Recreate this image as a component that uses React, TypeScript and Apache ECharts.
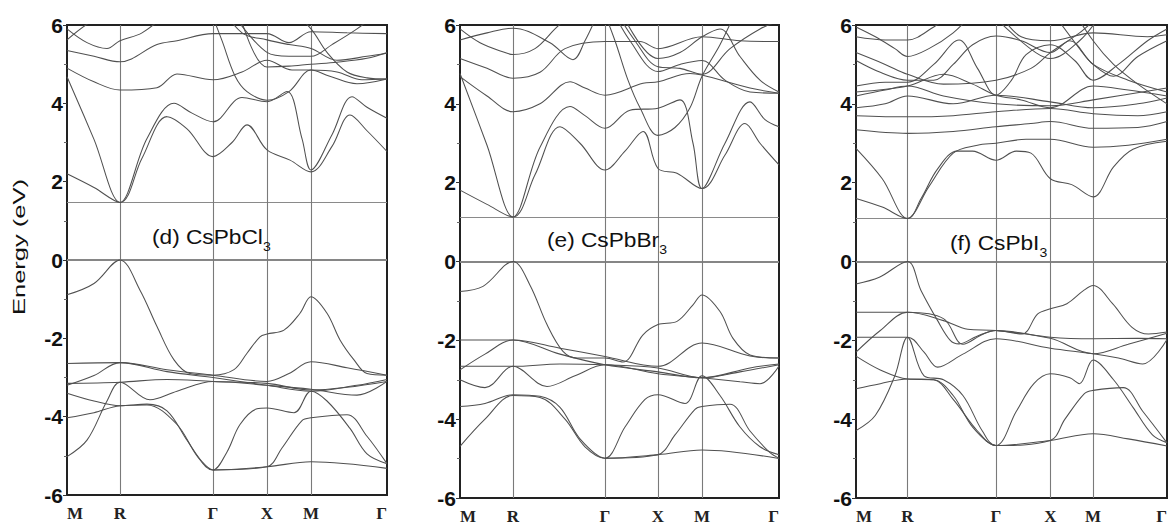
import React, { useEffect, useRef } from "react";
import * as echarts from "echarts";

// High-symmetry path M–R–Γ–X–M–Γ, positions along the k-path for each panel
const K_LABELS = ["M", "R", "Γ", "X", "M", "Γ"];
const D_KPOS = [0, 53, 146, 200, 244, 320];
const E_KPOS = [0, 53, 145, 198, 242, 319];
const F_KPOS = [0, 53, 144, 200, 244, 320];

// Conduction band minimum (eV) marked by a horizontal line in each panel
const D_CBM = 1.47;
const E_CBM = 1.13;
const F_CBM = 1.09;

const Y_TICKS = [-6, -4, -2, 0, 2, 4, 6];

// ---- (d) CsPbCl3 ----
const D_V1 = [[0, -0.89], [27, -0.6], [53, 0], [73, -0.77], [90, -1.7], [107, -2.55], [123, -2.9], [146, -2.94], [167, -2.8], [180, -2.38], [193, -1.96], [200, -1.89], [217, -1.79], [233, -1.36], [244, -0.94], [260, -1.36], [273, -2.04], [287, -2.55], [300, -2.9], [320, -2.94]];
const D_V2 = [[0, -2.64], [53, -2.62], [100, -2.8], [146, -2.94], [200, -3.1], [222, -2.9], [244, -2.6], [280, -2.75], [320, -2.94]];
const D_V3 = [[0, -3.15], [53, -3.12], [100, -3.05], [146, -3.1], [200, -3.15], [244, -3.32], [280, -3.25], [320, -3.1]];
const D_V4 = [[0, -3.2], [27, -2.95], [53, -2.62], [100, -2.85], [146, -3.0], [200, -3.2], [244, -3.35], [290, -3.2], [320, -3.05]];
const D_V5 = [[0, -3.4], [27, -3.6], [53, -3.72], [80, -3.68], [100, -3.85], [120, -4.6], [135, -5.15], [146, -5.36], [160, -4.9], [173, -4.2], [190, -3.8], [200, -3.78], [227, -3.9], [244, -3.35], [260, -3.6], [283, -4.3], [300, -4.95], [320, -5.2]];
const D_V6 = [[0, -4.03], [27, -3.9], [53, -3.72], [80, -3.7], [110, -4.2], [130, -5.0], [146, -5.36], [200, -5.28], [244, -5.15], [320, -5.32]];
const D_V7 = [[0, -5.02], [20, -4.6], [40, -3.6], [53, -3.12], [83, -3.57], [110, -3.35], [146, -3.1], [200, -3.2], [244, -3.3], [290, -3.45], [320, -3.1]];
const D_V8 = [[146, -5.36], [200, -5.28], [215, -4.8], [235, -4.1], [244, -4.03], [280, -3.95], [300, -4.5], [320, -5.2]];
const D_C1 = [[0, 2.2], [27, 1.85], [53, 1.47], [75, 2.6], [100, 3.66], [120, 3.35], [146, 2.64], [165, 3.0], [180, 3.45], [200, 2.81], [223, 2.55], [244, 2.25], [265, 2.9], [283, 3.7], [300, 3.3], [320, 2.77]];
const D_C2 = [[0, 4.68], [27, 3.08], [53, 1.47], [80, 3.1], [107, 4.0], [125, 3.75], [146, 3.53], [175, 4.15], [200, 4.04], [220, 4.3], [235, 3.1], [244, 2.3], [265, 3.2], [285, 4.17], [300, 3.9], [320, 3.62]];
const D_C3 = [[0, 4.9], [27, 4.55], [53, 4.34], [90, 4.4], [110, 4.75], [146, 4.6], [175, 4.8], [200, 5.1], [225, 4.85], [244, 4.85], [270, 4.8], [295, 4.6], [320, 4.62]];
const D_C4 = [[0, 5.35], [27, 5.2], [53, 5.06], [90, 5.5], [110, 5.6], [146, 5.78], [200, 5.78], [222, 5.55], [244, 5.83], [280, 5.8], [320, 5.78]];
const D_C5 = [[0, 5.62], [25, 6.1], [53, 6.4]];
const D_C6 = [[0, 5.9], [20, 5.55], [40, 5.4], [53, 5.6], [75, 5.8], [100, 6.3]];
const D_C7 = [[140, 6.6], [155, 5.6], [168, 4.7], [180, 4.3], [200, 4.08], [222, 4.3], [244, 4.85], [262, 4.7], [290, 4.5], [320, 4.62]];
const D_C8 = [[150, 6.6], [175, 5.8], [200, 5.62], [222, 5.5], [244, 5.4], [270, 5.1], [300, 5.2], [320, 5.28]];
const D_C9 = [[160, 6.5], [200, 5.3], [222, 5.2], [244, 5.2], [265, 5.5], [290, 5.9], [310, 6.3]];
const D_C10 = [[220, 6.5], [244, 5.9], [260, 5.3], [280, 4.8], [300, 4.65], [320, 4.62]];
const D_C11 = [[170, 6.5], [200, 4.93], [222, 4.95], [244, 5.0], [270, 5.05], [300, 5.15], [320, 5.3]];

// ---- (e) CsPbBr3 ----
const E_V1 = [[0, -0.76], [23, -0.63], [53, 0], [70, -0.6], [87, -1.6], [103, -2.28], [117, -2.45], [145, -2.45], [163, -2.55], [183, -1.86], [198, -1.6], [217, -1.52], [233, -1.1], [242, -0.85], [260, -1.27], [273, -1.95], [290, -2.37], [319, -2.45]];
const E_V2 = [[0, -1.99], [53, -1.99], [100, -2.2], [145, -2.41], [198, -2.66], [242, -2.07], [290, -2.4], [319, -2.45]];
const E_V3 = [[0, -2.66], [53, -2.66], [100, -2.6], [145, -2.62], [198, -2.7], [242, -2.95], [280, -2.8], [319, -2.62]];
const E_V4 = [[0, -2.75], [25, -2.35], [53, -1.99], [100, -2.35], [145, -2.62], [198, -2.8], [242, -2.95], [290, -2.7], [319, -2.6]];
const E_V5 = [[0, -3.0], [25, -3.2], [53, -2.66], [87, -3.17], [115, -2.9], [145, -2.62], [198, -2.85], [242, -2.95], [280, -3.05], [300, -3.1], [319, -2.65]];
const E_V6 = [[0, -3.68], [25, -3.6], [53, -3.38], [80, -3.42], [100, -3.7], [120, -4.5], [145, -4.99], [165, -4.2], [185, -3.5], [198, -3.38], [225, -3.6], [242, -2.9], [260, -3.4], [280, -4.2], [300, -4.7], [319, -4.9]];
const E_V7 = [[0, -4.69], [25, -4.0], [53, -3.4], [80, -3.45], [105, -4.0], [125, -4.7], [145, -4.99], [198, -4.9], [242, -4.78], [319, -5.0]];
const E_V8 = [[145, -4.99], [198, -4.9], [215, -4.4], [235, -3.75], [242, -3.68], [270, -3.62], [290, -4.3], [310, -4.85], [319, -4.99]];
const E_C1 = [[0, 1.81], [27, 1.45], [53, 1.13], [75, 2.2], [100, 3.42], [120, 3.0], [145, 2.32], [165, 2.8], [183, 3.3], [198, 2.36], [217, 2.24], [242, 1.85], [265, 2.7], [285, 3.5], [300, 3.0], [319, 2.45]];
const E_C2 = [[0, 4.77], [27, 2.95], [53, 1.13], [80, 2.9], [110, 3.93], [125, 3.7], [145, 3.38], [170, 3.84], [198, 3.89], [220, 4.1], [233, 3.0], [242, 1.85], [265, 3.0], [290, 4.05], [305, 3.6], [319, 3.42]];
const E_C3 = [[0, 4.69], [27, 4.2], [53, 3.8], [80, 4.0], [110, 4.56], [125, 4.4], [145, 4.22], [183, 4.52], [198, 4.56], [230, 4.77], [242, 4.73], [290, 4.4], [319, 4.27]];
const E_C4 = [[0, 5.15], [27, 4.9], [53, 4.65], [80, 4.8], [105, 5.4], [145, 5.58], [180, 5.58], [198, 5.4], [242, 5.7], [280, 5.6], [319, 5.58]];
const E_C5 = [[0, 5.62], [27, 5.8], [53, 5.92], [90, 5.55], [113, 5.12], [125, 5.6], [138, 6.3]];
const E_C6 = [[0, 5.9], [20, 5.55], [45, 5.3], [53, 5.25], [75, 5.4], [95, 5.9], [120, 6.5]];
const E_C7 = [[150, 6.5], [170, 5.6], [198, 4.82], [220, 5.0], [242, 5.1], [265, 4.6], [290, 4.3], [319, 4.27]];
const E_C8 = [[160, 6.4], [198, 5.15], [220, 5.3], [242, 5.7], [260, 5.9], [280, 5.2], [300, 4.6], [319, 4.3]];
const E_C9 = [[150, 6.6], [175, 5.6], [198, 4.94], [220, 4.9], [242, 4.75], [270, 5.4], [300, 5.9], [319, 6.1]];
const E_C10 = [[140, 6.6], [155, 5.6], [168, 4.6], [180, 3.9], [198, 3.2], [215, 3.4], [230, 3.9], [242, 4.7], [260, 5.5], [275, 6.3]];

// ---- (f) CsPbI3 ----
const F_V1 = [[0, -0.57], [24, -0.4], [53, 0], [67, -0.74], [84, -1.5], [97, -2.0], [106, -2.09], [124, -1.9], [144, -1.75], [171, -1.84], [187, -1.33], [200, -1.2], [217, -1.07], [234, -0.74], [244, -0.61], [264, -1.07], [284, -1.67], [301, -1.84], [320, -1.79]];
const F_V2 = [[0, -1.29], [53, -1.29], [90, -1.5], [115, -1.72], [144, -1.75], [200, -1.95], [244, -2.34], [280, -2.1], [320, -1.82]];
const F_V3 = [[0, -1.92], [53, -1.92], [70, -2.3], [84, -2.68], [110, -2.35], [144, -1.96], [200, -2.2], [244, -2.34], [270, -2.45], [295, -2.6], [320, -1.98]];
const F_V4 = [[0, -2.3], [25, -1.75], [53, -1.29], [90, -1.45], [110, -2.1], [130, -1.85], [144, -1.75], [200, -1.92], [244, -1.96], [290, -1.95], [320, -1.96]];
const F_V5 = [[0, -2.4], [25, -2.75], [53, -2.98], [80, -3.0], [100, -3.4], [120, -4.2], [144, -4.67], [165, -3.8], [183, -3.1], [200, -2.85], [220, -2.95], [230, -3.1], [244, -2.5], [265, -3.0], [285, -3.7], [305, -4.4], [320, -4.6]];
const F_V6 = [[0, -3.23], [25, -3.1], [53, -2.98], [80, -3.0], [100, -3.5], [125, -4.3], [144, -4.67], [200, -4.54], [244, -4.37], [280, -4.5], [320, -4.68]];
const F_V7 = [[0, -4.29], [20, -3.9], [40, -2.9], [53, -1.92], [70, -2.9], [90, -3.0], [110, -3.4], [130, -4.3], [144, -4.67], [200, -4.54], [215, -4.0], [235, -3.35], [244, -3.27], [275, -3.2], [295, -3.8], [320, -4.6]];
const F_C1 = [[0, 1.6], [27, 1.38], [53, 1.09], [67, 1.6], [84, 2.35], [104, 2.8], [120, 2.8], [144, 2.57], [165, 2.8], [180, 2.75], [200, 2.1], [222, 1.95], [244, 1.64], [265, 2.4], [285, 2.85], [320, 3.05]];
const F_C2 = [[0, 2.87], [27, 2.1], [53, 1.09], [75, 1.9], [100, 2.75], [125, 2.95], [144, 3.0], [175, 3.1], [200, 3.1], [244, 2.9], [280, 2.95], [320, 3.1]];
const F_C3 = [[0, 3.34], [53, 3.25], [100, 3.3], [144, 3.42], [180, 3.5], [200, 3.55], [244, 3.38], [290, 3.4], [320, 3.55]];
const F_C4 = [[0, 3.7], [53, 3.67], [100, 3.7], [144, 3.8], [200, 3.88], [244, 3.75], [290, 3.7], [320, 3.8]];
const F_C5 = [[0, 3.9], [30, 4.0], [53, 4.2], [100, 4.0], [144, 4.22], [200, 4.05], [244, 3.9], [290, 4.0], [320, 4.15]];
const F_C6 = [[0, 4.3], [53, 4.45], [90, 4.75], [120, 4.5], [144, 4.22], [170, 4.1], [200, 3.9], [244, 4.45], [280, 4.35], [320, 4.2]];
const F_C7 = [[0, 4.45], [30, 4.55], [53, 4.55], [80, 5.0], [106, 5.62], [125, 4.9], [144, 4.22], [160, 4.6], [175, 5.25], [200, 5.5], [225, 5.1], [244, 4.6], [270, 5.0], [300, 5.6], [320, 5.9]];
const F_C8 = [[0, 5.1], [25, 4.8], [53, 4.6], [80, 4.6], [100, 5.0], [120, 5.5], [144, 5.72], [170, 5.6], [200, 5.3], [220, 5.6], [244, 5.0], [280, 4.6], [320, 4.3]];
const F_C9 = [[0, 5.7], [30, 5.62], [53, 5.62], [80, 5.95], [100, 6.3]];
const F_C10 = [[0, 5.95], [20, 5.7], [40, 5.4], [53, 5.2], [75, 5.4], [100, 5.8], [120, 6.3]];
const F_C11 = [[130, 6.5], [160, 5.8], [185, 5.3], [200, 5.15], [230, 5.6], [250, 6.2]];
const F_C12 = [[140, 6.6], [170, 5.7], [200, 5.6], [244, 5.8], [300, 5.7], [320, 5.75]];
const F_C13 = [[220, 6.5], [244, 5.6], [265, 5.0], [290, 4.5], [320, 4.0]];
const F_C14 = [[0, 4.2], [30, 4.35], [53, 4.45], [90, 4.2], [144, 4.0], [200, 3.95], [244, 4.1], [320, 4.4]];
const F_C15 = [[0, 5.3], [30, 5.0], [53, 4.75], [90, 4.5], [144, 4.6], [180, 4.9], [200, 5.3], [230, 5.8], [244, 6.1]];
const F_C16 = [[200, 6.4], [230, 5.4], [244, 5.0], [265, 4.7], [290, 5.2], [320, 5.6]];

const PANELS = [
  {
    kpos: D_KPOS, cbm: D_CBM, name: "(d) CsPbCl",
    bands: [D_V1, D_V2, D_V3, D_V4, D_V5, D_V6, D_V7, D_V8, D_C1, D_C2, D_C3, D_C4, D_C5, D_C6, D_C7, D_C8, D_C9, D_C10, D_C11],
    grid: { left: 67, top: 25, width: 320, height: 470 },
    title: [152, 237],
  },
  {
    kpos: E_KPOS, cbm: E_CBM, name: "(e) CsPbBr",
    bands: [E_V1, E_V2, E_V3, E_V4, E_V5, E_V6, E_V7, E_V8, E_C1, E_C2, E_C3, E_C4, E_C5, E_C6, E_C7, E_C8, E_C9, E_C10],
    grid: { left: 460, top: 25, width: 319, height: 473 },
    title: [547, 240],
  },
  {
    kpos: F_KPOS, cbm: F_CBM, name: "(f) CsPbI",
    bands: [F_V1, F_V2, F_V3, F_V4, F_V5, F_V6, F_V7, F_C1, F_C2, F_C3, F_C4, F_C5, F_C6, F_C7, F_C8, F_C9, F_C10, F_C11, F_C12, F_C13, F_C14, F_C15, F_C16],
    grid: { left: 856, top: 25, width: 320, height: 473 },
    title: [950, 243],
  },
];

const SANS = '"Liberation Sans", Arial, sans-serif';
const SERIF = '"Liberation Serif", "Times New Roman", serif';

function buildOption() {
  const grid: any[] = [];
  const xAxis: any[] = [];
  const yAxis: any[] = [];
  const series: any[] = [];
  const graphic: any[] = [];

  PANELS.forEach((p, i) => {
    grid.push({ ...p.grid, show: true, borderColor: "#222", borderWidth: 2, backgroundColor: "transparent" });
    const kpos = p.kpos;
    xAxis.push({
      gridIndex: i,
      type: "value",
      min: 0,
      max: kpos[kpos.length - 1],
      axisLine: { show: true, lineStyle: { color: "#222", width: 2 } },
      axisTick: { show: false },
      splitLine: { show: false },
      axisLabel: {
        customValues: kpos,
        formatter: (v: number) => {
          const idx = kpos.indexOf(v);
          return idx >= 0 ? K_LABELS[idx] : "";
        },
        fontFamily: SERIF,
        fontWeight: "bold",
        fontSize: 17,
        color: "#222",
        margin: 10,
        alignMinLabel: "left",
        alignMaxLabel: "right",
      },
    });
    yAxis.push({
      gridIndex: i,
      type: "value",
      min: Y_TICKS[0],
      max: Y_TICKS[Y_TICKS.length - 1],
      interval: 2,
      axisLine: { show: true, lineStyle: { color: "#222", width: 2 } },
      axisTick: { show: true, inside: false, length: 4, lineStyle: { color: "#333" } },
      minorTick: { show: true, splitNumber: 2, length: 3, lineStyle: { color: "#666" } },
      splitLine: { show: false },
      axisLabel: { fontFamily: SANS, fontWeight: "bold", fontSize: 21, color: "#111", margin: 4 },
    });

    p.bands.forEach((band, j) => {
      const s: any = {
        type: "line",
        xAxisIndex: i,
        yAxisIndex: i,
        data: band,
        showSymbol: false,
        smooth: 0.35,
        silent: true,
        clip: true,
        lineStyle: { color: "#505050", width: 1.05 },
        z: 3,
      };
      if (j === 0) {
        const lines: any[] = [
          { yAxis: 0, lineStyle: { color: "#a8a8a8", width: 1.6 } },
          { yAxis: p.cbm, lineStyle: { color: "#8a8a8a", width: 1.2 } },
        ];
        kpos.slice(1, -1).forEach((k) => lines.push({ xAxis: k, lineStyle: { color: "#7a7a7a", width: 1.1 } }));
        s.markLine = {
          silent: true,
          symbol: ["none", "none"],
          label: { show: false },
          lineStyle: { type: "solid" },
          data: lines,
          z: 2,
        };
      }
      series.push(s);
    });

    graphic.push({
      type: "text",
      x: p.title[0],
      y: p.title[1],
      scaleX: 1.08,
      style: {
        text: p.name + "{sub|3}",
        font: `21px ${SANS}`,
        fill: "#111",
        textAlign: "left",
        textVerticalAlign: "middle",
        lineHeight: 32,
        rich: {
          sub: { fontSize: 13, fontFamily: SANS, fill: "#111", verticalAlign: "bottom", lineHeight: 13 },
        },
      },
      z: 10,
    });
  });

  graphic.push({
    type: "text",
    x: 19,
    y: 247,
    rotation: Math.PI / 2,
    scaleX: 1.5,
    style: {
      text: "Energy (eV)",
      font: `17px ${SANS}`,
      fill: "#111",
      textAlign: "center",
      textVerticalAlign: "middle",
    },
  });

  return {
    animation: false,
    backgroundColor: "#ffffff",
    grid,
    xAxis,
    yAxis,
    series,
    graphic,
  };
}

export default function App() {
  const ref = useRef<HTMLDivElement>(null);
  useEffect(() => {
    if (!ref.current) return;
    const chart = echarts.init(ref.current, undefined, { renderer: "svg" });
    chart.setOption(buildOption() as any);
    return () => chart.dispose();
  }, []);
  return (
    <div
      ref={ref}
      style={{ position: "fixed", left: 0, top: 0, width: 1170, height: 526, background: "#fff" }}
    />
  );
}
